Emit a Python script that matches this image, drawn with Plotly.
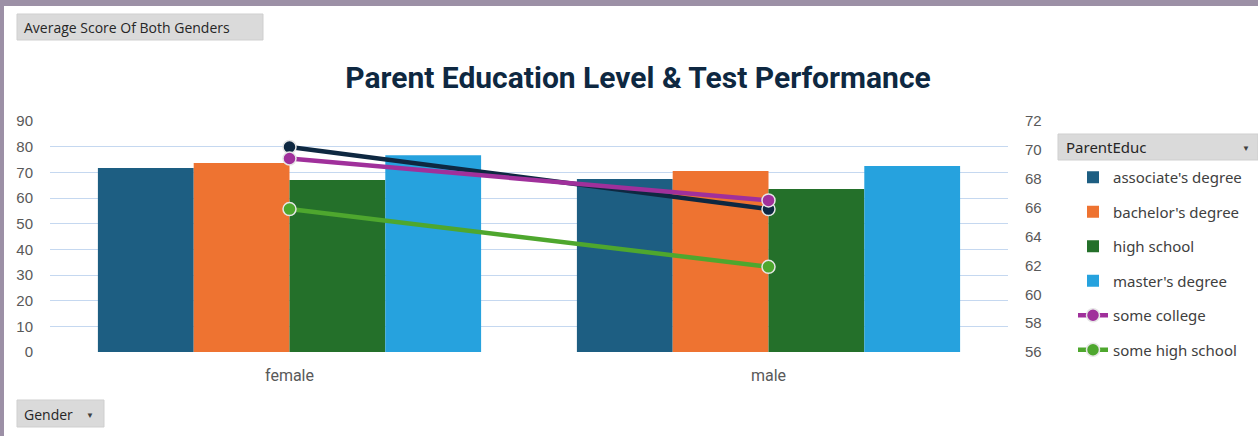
import plotly.graph_objects as go

categories = ["female", "male"]

bar_series = ["associate's degree", "bachelor's degree", "high school", "master's degree"]
associates = [71.7, 67.4]
bachelors = [73.6, 70.5]
high_school = [67.0, 63.5]
masters = [76.7, 72.5]

line_series = ["some college", "some high school"]
some_college = [69.4, 66.5]
some_high_school = [65.9, 61.9]
overall_line = [70.2, 65.9]  # dark line, not shown in legend

bar_colors = ["#1d5e82", "#ee7331", "#24702a", "#26a2de"]
line_colors = ["#a0309b", "#4ea72e", "#0e2841"]

W, H = 1258, 436
L, R, T, B = 50, 1008, 121, 352

fig = go.Figure()
for i, (name, vals) in enumerate(zip(bar_series, [associates, bachelors, high_school, masters])):
    fig.add_trace(go.Bar(
        x=categories, y=vals, name=name, marker=dict(color=bar_colors[i], line=dict(width=0)),
        legendgroup=f"g{i}",
    ))

fig.add_trace(go.Scatter(
    x=categories, y=overall_line, name="overall", yaxis="y2", mode="lines+markers",
    line=dict(color=line_colors[2], width=4.5),
    marker=dict(size=13, color=line_colors[2], line=dict(color="#e6e6e6", width=1.5)),
    showlegend=False,
))
for j, (name, vals) in enumerate(zip(line_series, [some_college, some_high_school])):
    fig.add_trace(go.Scatter(
        x=categories, y=vals, name=name, yaxis="y2", mode="lines+markers",
        line=dict(color=line_colors[j], width=4.5),
        marker=dict(size=13, color=line_colors[j], line=dict(color="#e6e6e6", width=1.5)),
        legendgroup=f"h{j}",
    ))

tickfont = dict(family="Liberation Sans, Arial, sans-serif", size=15, color="#595959")

fig.update_layout(
    width=W, height=H,
    margin=dict(l=L, r=W - R, t=T, b=H - B, pad=0),
    paper_bgcolor="white", plot_bgcolor="white",
    barmode="group", bargap=0.2, bargroupgap=0,
    title=dict(
        text="<b>Parent Education Level & Test Performance</b>",
        x=638 / W, xref="container", xanchor="center",
        y=1 - 77 / H, yref="container", yanchor="middle",
        font=dict(family="Roboto, sans-serif", size=30, color="#0e2841"),
    ),
    xaxis=dict(
        showgrid=False, showline=False, zeroline=False, ticks="",
        tickfont=dict(family="Liberation Sans Narrow, Roboto, sans-serif", size=16, color="#595959"),
        ticklabelstandoff=12,
    ),
    yaxis=dict(
        range=[0, 90], dtick=10, showgrid=True, gridcolor="#c5d8f0", gridwidth=1.4,
        zeroline=False, showline=False, ticks="", tickfont=tickfont, ticklabelstandoff=16,
    ),
    yaxis2=dict(
        range=[56, 72], dtick=2, overlaying="y", side="right", showgrid=False,
        zeroline=False, showline=False, ticks="", tickfont=tickfont, ticklabelstandoff=16,
    ),
    legend=dict(
        x=1073 / W, xref="container", xanchor="left",
        y=1 - 161 / H, yref="container", yanchor="top",
        font=dict(family="Noto Sans, sans-serif", size=15, color="#404040"),
        traceorder="grouped", tracegroupgap=12, itemwidth=30,
        bgcolor="rgba(0,0,0,0)",
    ),
    showlegend=True,
)


def px_x(x):
    return (x - L) / (R - L)


def px_y(y):
    return (B - y) / (B - T)


shapes = [
    dict(type="rect", xref="paper", yref="paper", x0=px_x(0), x1=px_x(4), y0=px_y(H), y1=px_y(0),
         fillcolor="#9c90a6", line=dict(width=0), layer="above"),
    dict(type="rect", xref="paper", yref="paper", x0=px_x(0), x1=px_x(W), y0=px_y(6), y1=px_y(0),
         fillcolor="#9c90a6", line=dict(width=0), layer="above"),
]
buttons = [(17, 14, 263, 40), (17, 400, 104, 427), (1058, 134, 1258, 160)]
for (x0, y0, x1, y1) in buttons:
    shapes.append(dict(type="rect", xref="paper", yref="paper", x0=px_x(x0), x1=px_x(x1), y0=px_y(y1), y1=px_y(y0),
                       fillcolor="#dadada", line=dict(color="#cfcfcf", width=1), layer="above"))
fig.update_layout(shapes=shapes)

btn_font = dict(family="Open Sans, DejaVu Sans, sans-serif", size=14, color="#262626")
annos = [
    dict(text="Average Score Of Both Genders", x=px_x(22), y=px_y(27), xanchor="left", yanchor="middle", font=btn_font),
    dict(text="Gender", x=px_x(22), y=px_y(414), xanchor="left", yanchor="middle", font=btn_font),
    dict(text="▼", x=px_x(90), y=px_y(414), xanchor="center", yanchor="middle", font=dict(size=8, color="#404040")),
    dict(text="ParentEduc", x=px_x(1064), y=px_y(147), xanchor="left", yanchor="middle",
         font=dict(family="Noto Sans, sans-serif", size=15, color="#262626")),
    dict(text="▼", x=px_x(1246), y=px_y(147), xanchor="center", yanchor="middle", font=dict(size=8, color="#404040")),
]
for a in annos:
    a.update(xref="paper", yref="paper", showarrow=False)
fig.update_layout(annotations=annos)

fig.write_html("out.html", config={"displayModeBar": False},
               post_script="document.body.style.margin='0';document.body.style.padding='0';")
